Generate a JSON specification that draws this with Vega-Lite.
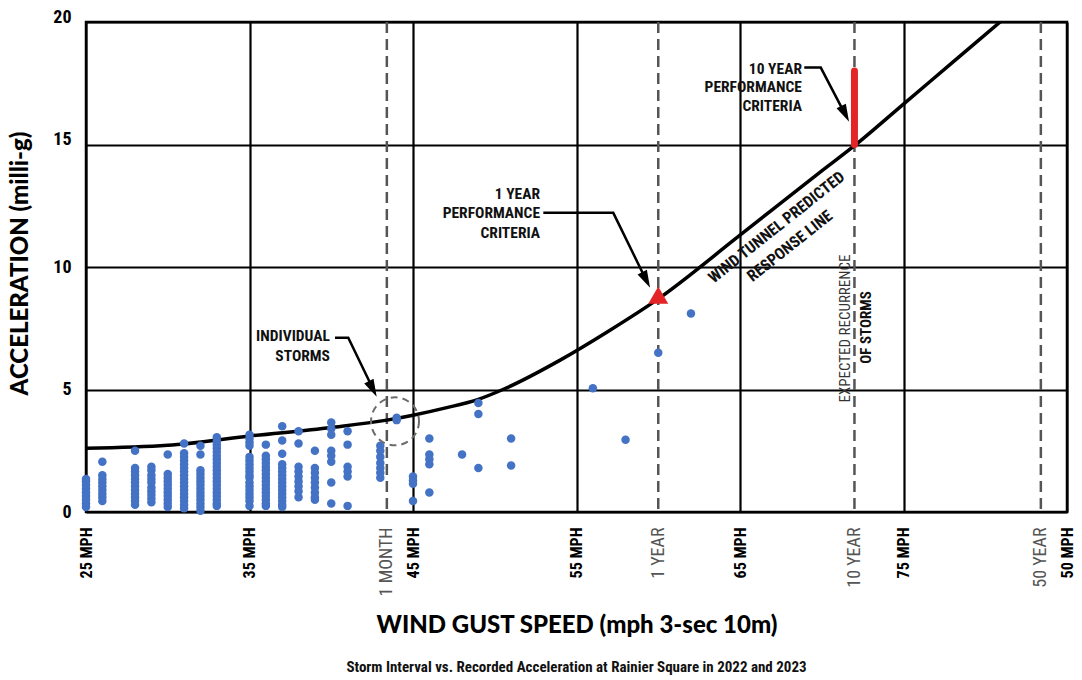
{
  "$schema": "https://vega.github.io/schema/vega-lite/v6.json",
  "width": 981,
  "height": 490,
  "autosize": {"type": "none"},
  "padding": {"left": 86, "top": 22, "right": 15, "bottom": 168},
  "background": "white",
  "title": {
    "text": "Storm Interval vs. Recorded Acceleration at Rainier Square in 2022 and 2023",
    "orient": "bottom",
    "anchor": "middle",
    "offset": 23,
    "font": "'Noto Sans ExtraCondensed', 'Roboto Condensed', 'Noto Sans Condensed', 'Liberation Sans Narrow', 'DejaVu Sans Condensed', sans-serif",
    "fontSize": 15,
    "fontWeight": "bold",
    "color": "#111111"
  },
  "datasets": {
    "storms": [
      {"mph": 25, "acc": 0.2}, {"mph": 25, "acc": 0.35}, {"mph": 25, "acc": 0.5}, {"mph": 25, "acc": 0.65}, {"mph": 25, "acc": 0.8}, {"mph": 25, "acc": 0.95}, {"mph": 25, "acc": 1.1}, {"mph": 25, "acc": 1.25}, {"mph": 25, "acc": 1.35},
      {"mph": 26, "acc": 2.05}, {"mph": 26, "acc": 1.5}, {"mph": 26, "acc": 1.35}, {"mph": 26, "acc": 1.2}, {"mph": 26, "acc": 1.05}, {"mph": 26, "acc": 0.9}, {"mph": 26, "acc": 0.75}, {"mph": 26, "acc": 0.6}, {"mph": 26, "acc": 0.45},
      {"mph": 28, "acc": 2.5}, {"mph": 28, "acc": 1.8}, {"mph": 28, "acc": 1.65}, {"mph": 28, "acc": 1.5}, {"mph": 28, "acc": 1.35}, {"mph": 28, "acc": 1.2}, {"mph": 28, "acc": 1.05}, {"mph": 28, "acc": 0.9}, {"mph": 28, "acc": 0.75}, {"mph": 28, "acc": 0.6}, {"mph": 28, "acc": 0.45}, {"mph": 28, "acc": 0.3},
      {"mph": 29, "acc": 1.85}, {"mph": 29, "acc": 1.7}, {"mph": 29, "acc": 1.5}, {"mph": 29, "acc": 1.35}, {"mph": 29, "acc": 1.2}, {"mph": 29, "acc": 1.0}, {"mph": 29, "acc": 0.85}, {"mph": 29, "acc": 0.7}, {"mph": 29, "acc": 0.55}, {"mph": 29, "acc": 0.4},
      {"mph": 30, "acc": 2.35}, {"mph": 30, "acc": 1.55}, {"mph": 30, "acc": 1.4}, {"mph": 30, "acc": 1.25}, {"mph": 30, "acc": 1.1}, {"mph": 30, "acc": 0.95}, {"mph": 30, "acc": 0.8}, {"mph": 30, "acc": 0.65}, {"mph": 30, "acc": 0.5}, {"mph": 30, "acc": 0.35}, {"mph": 30, "acc": 0.2},
      {"mph": 31, "acc": 2.8}, {"mph": 31, "acc": 2.4}, {"mph": 31, "acc": 2.25}, {"mph": 31, "acc": 2.1}, {"mph": 31, "acc": 1.95}, {"mph": 31, "acc": 1.8}, {"mph": 31, "acc": 1.65}, {"mph": 31, "acc": 1.5}, {"mph": 31, "acc": 1.35}, {"mph": 31, "acc": 1.2}, {"mph": 31, "acc": 1.05}, {"mph": 31, "acc": 0.9}, {"mph": 31, "acc": 0.75}, {"mph": 31, "acc": 0.6}, {"mph": 31, "acc": 0.45}, {"mph": 31, "acc": 0.3}, {"mph": 31, "acc": 0.15},
      {"mph": 32, "acc": 2.7}, {"mph": 32, "acc": 2.35}, {"mph": 32, "acc": 1.7}, {"mph": 32, "acc": 1.55}, {"mph": 32, "acc": 1.4}, {"mph": 32, "acc": 1.25}, {"mph": 32, "acc": 1.1}, {"mph": 32, "acc": 0.95}, {"mph": 32, "acc": 0.8}, {"mph": 32, "acc": 0.65}, {"mph": 32, "acc": 0.5}, {"mph": 32, "acc": 0.35}, {"mph": 32, "acc": 0.2}, {"mph": 32, "acc": 0.05},
      {"mph": 33, "acc": 3.05}, {"mph": 33, "acc": 2.9}, {"mph": 33, "acc": 2.75}, {"mph": 33, "acc": 2.6}, {"mph": 33, "acc": 2.45}, {"mph": 33, "acc": 2.3}, {"mph": 33, "acc": 2.15}, {"mph": 33, "acc": 2.0}, {"mph": 33, "acc": 1.85}, {"mph": 33, "acc": 1.7}, {"mph": 33, "acc": 1.55}, {"mph": 33, "acc": 1.4}, {"mph": 33, "acc": 1.25}, {"mph": 33, "acc": 1.1}, {"mph": 33, "acc": 0.95}, {"mph": 33, "acc": 0.8}, {"mph": 33, "acc": 0.65}, {"mph": 33, "acc": 0.5}, {"mph": 33, "acc": 0.35}, {"mph": 33, "acc": 0.25},
      {"mph": 35, "acc": 3.15}, {"mph": 35, "acc": 3.0}, {"mph": 35, "acc": 2.85}, {"mph": 35, "acc": 2.7}, {"mph": 35, "acc": 2.25}, {"mph": 35, "acc": 2.1}, {"mph": 35, "acc": 1.95}, {"mph": 35, "acc": 1.8}, {"mph": 35, "acc": 1.65}, {"mph": 35, "acc": 1.5}, {"mph": 35, "acc": 1.4}, {"mph": 35, "acc": 1.2}, {"mph": 35, "acc": 1.05}, {"mph": 35, "acc": 0.9}, {"mph": 35, "acc": 0.75}, {"mph": 35, "acc": 0.6}, {"mph": 35, "acc": 0.45}, {"mph": 35, "acc": 0.25},
      {"mph": 36, "acc": 2.75}, {"mph": 36, "acc": 2.3}, {"mph": 36, "acc": 2.15}, {"mph": 36, "acc": 2.0}, {"mph": 36, "acc": 1.85}, {"mph": 36, "acc": 1.7}, {"mph": 36, "acc": 1.55}, {"mph": 36, "acc": 1.4}, {"mph": 36, "acc": 1.25}, {"mph": 36, "acc": 1.1}, {"mph": 36, "acc": 0.95}, {"mph": 36, "acc": 0.8}, {"mph": 36, "acc": 0.65}, {"mph": 36, "acc": 0.5}, {"mph": 36, "acc": 0.35}, {"mph": 36, "acc": 0.25},
      {"mph": 37, "acc": 3.5}, {"mph": 37, "acc": 2.92}, {"mph": 37, "acc": 2.38}, {"mph": 37, "acc": 1.95}, {"mph": 37, "acc": 1.8}, {"mph": 37, "acc": 1.65}, {"mph": 37, "acc": 1.5}, {"mph": 37, "acc": 1.35}, {"mph": 37, "acc": 1.2}, {"mph": 37, "acc": 1.05}, {"mph": 37, "acc": 0.9}, {"mph": 37, "acc": 0.75}, {"mph": 37, "acc": 0.6}, {"mph": 37, "acc": 0.45}, {"mph": 37, "acc": 0.3}, {"mph": 37, "acc": 0.2},
      {"mph": 38, "acc": 3.3}, {"mph": 38, "acc": 2.8}, {"mph": 38, "acc": 1.85}, {"mph": 38, "acc": 1.65}, {"mph": 38, "acc": 1.45}, {"mph": 38, "acc": 1.25}, {"mph": 38, "acc": 1.05}, {"mph": 38, "acc": 0.85}, {"mph": 38, "acc": 0.6},
      {"mph": 39, "acc": 2.5}, {"mph": 39, "acc": 1.8}, {"mph": 39, "acc": 1.6}, {"mph": 39, "acc": 1.4}, {"mph": 39, "acc": 1.2}, {"mph": 39, "acc": 1.0}, {"mph": 39, "acc": 0.8}, {"mph": 39, "acc": 0.6}, {"mph": 39, "acc": 0.5},
      {"mph": 40, "acc": 3.65}, {"mph": 40, "acc": 3.4}, {"mph": 40, "acc": 3.15}, {"mph": 40, "acc": 2.5}, {"mph": 40, "acc": 2.3}, {"mph": 40, "acc": 2.05}, {"mph": 40, "acc": 1.2}, {"mph": 40, "acc": 0.35},
      {"mph": 41, "acc": 3.3}, {"mph": 41, "acc": 2.75}, {"mph": 41, "acc": 1.85}, {"mph": 41, "acc": 1.65}, {"mph": 41, "acc": 1.45}, {"mph": 41, "acc": 0.25},
      {"mph": 43, "acc": 2.7}, {"mph": 43, "acc": 2.5}, {"mph": 43, "acc": 2.25}, {"mph": 43, "acc": 2.0}, {"mph": 43, "acc": 1.8}, {"mph": 43, "acc": 1.6}, {"mph": 43, "acc": 1.4},
      {"mph": 44, "acc": 3.85}, {"mph": 44, "acc": 3.75},
      {"mph": 45, "acc": 1.45}, {"mph": 45, "acc": 1.3}, {"mph": 45, "acc": 1.15}, {"mph": 45, "acc": 0.45},
      {"mph": 46, "acc": 3.0}, {"mph": 46, "acc": 2.35}, {"mph": 46, "acc": 2.15}, {"mph": 46, "acc": 1.95}, {"mph": 46, "acc": 0.8},
      {"mph": 48, "acc": 2.35},
      {"mph": 49, "acc": 4.45}, {"mph": 49, "acc": 4.0}, {"mph": 49, "acc": 1.8},
      {"mph": 51, "acc": 3.0}, {"mph": 51, "acc": 1.9},
      {"mph": 56, "acc": 5.05},
      {"mph": 58, "acc": 2.95},
      {"mph": 60, "acc": 6.5},
      {"mph": 62, "acc": 8.1}
    ],
    "response": [
      {"mph": 25, "acc": 2.6}, {"mph": 30, "acc": 2.72}, {"mph": 35, "acc": 3.1}, {"mph": 40, "acc": 3.45},
      {"mph": 43.4, "acc": 3.75}, {"mph": 45, "acc": 3.95}, {"mph": 47, "acc": 4.25}, {"mph": 49, "acc": 4.6},
      {"mph": 50.5, "acc": 5.0}, {"mph": 54, "acc": 6.2}, {"mph": 57, "acc": 7.4}, {"mph": 60, "acc": 8.7},
      {"mph": 65, "acc": 11.3}, {"mph": 70, "acc": 13.92}, {"mph": 72, "acc": 14.95}, {"mph": 75, "acc": 16.65},
      {"mph": 78, "acc": 18.35}, {"mph": 81, "acc": 20.05}
    ],
    "recurrence": [
      {"interval": "1 MONTH", "mph": 43.4},
      {"interval": "1 YEAR", "mph": 60},
      {"interval": "10 YEAR", "mph": 72},
      {"interval": "50 YEAR", "mph": 83.4}
    ],
    "criteria": [
      {"period": "1 YEAR", "mph": 60, "acc": 8.85},
      {"period": "10 YEAR", "mph": 72, "acc": 15, "acc2": 18}
    ],
    "highlight": [{"mph": 43.9, "acc": 3.7}],
    "notes": [
      {"kind": "label", "text": "INDIVIDUAL", "mph": 39.92, "acc": 7.18},
      {"kind": "label", "text": "STORMS", "mph": 39.92, "acc": 6.36},
      {"kind": "label", "text": "1 YEAR", "mph": 52.77, "acc": 12.96},
      {"kind": "label", "text": "PERFORMANCE", "mph": 52.77, "acc": 12.21},
      {"kind": "label", "text": "CRITERIA", "mph": 52.77, "acc": 11.4},
      {"kind": "label", "text": "10 YEAR", "mph": 68.79, "acc": 18.07},
      {"kind": "label", "text": "PERFORMANCE", "mph": 68.79, "acc": 17.33},
      {"kind": "label", "text": "CRITERIA", "mph": 68.79, "acc": 16.58},
      {"kind": "slope", "text": "WIND TUNNEL PREDICTED", "mph": 67.24, "acc": 11.62},
      {"kind": "slope", "text": "RESPONSE LINE", "mph": 68.06, "acc": 10.85},
      {"kind": "vertical", "text": "EXPECTED RECURRENCE", "mph": 71.45, "acc": 7.49},
      {"kind": "verticalBold", "text": "OF STORMS", "mph": 72.68, "acc": 7.53}
    ],
    "leaders": [
      {"note": "storms", "seq": 1, "mph": 40.23, "acc": 7.11},
      {"note": "storms", "seq": 2, "mph": 41.04, "acc": 7.11},
      {"note": "storms", "seq": 3, "mph": 42.57, "acc": 5.0},
      {"note": "year1", "seq": 1, "mph": 52.97, "acc": 12.21},
      {"note": "year1", "seq": 2, "mph": 57.25, "acc": 12.21},
      {"note": "year1", "seq": 3, "mph": 59.28, "acc": 9.44},
      {"note": "year10", "seq": 1, "mph": 68.93, "acc": 18.14},
      {"note": "year10", "seq": 2, "mph": 69.94, "acc": 18.14},
      {"note": "year10", "seq": 3, "mph": 71.44, "acc": 16.22}
    ],
    "heads": [
      {"note": "storms", "mph": 42.78, "acc": 4.7},
      {"note": "year1", "mph": 59.5, "acc": 9.15},
      {"note": "year10", "mph": 71.67, "acc": 15.93}
    ]
  },
  "encoding": {
    "x": {
      "field": "mph",
      "type": "quantitative",
      "title": "WIND GUST SPEED (mph 3-sec 10m)",
      "scale": {"domain": [25, 85], "nice": false, "zero": false},
      "axis": {
        "values": [25, 35, 43.4, 45, 55, 60, 65, 72, 75, 83.4, 85],
        "labelExpr": "datum.value == 43.4 ? '1 MONTH' : datum.value == 60 ? '1 YEAR' : datum.value == 72 ? '10 YEAR' : datum.value == 83.4 ? '50 YEAR' : datum.value == 85 ? '50 MPH' : datum.label + ' MPH'",
        "labelAngle": -90,
        "labelPadding": 15,
        "labelFont": "'Noto Sans ExtraCondensed', 'Roboto Condensed', 'Noto Sans Condensed', 'Liberation Sans Narrow', 'DejaVu Sans Condensed', sans-serif",
        "labelFontSize": {"condition": {"test": "indexof([43.4, 60, 72, 83.4], datum.value) >= 0", "value": 18}, "value": 16},
        "labelFontWeight": {"condition": {"test": "indexof([43.4, 60, 72, 83.4], datum.value) >= 0", "value": "normal"}, "value": "bold"},
        "labelColor": {"condition": {"test": "indexof([43.4, 60, 72, 83.4], datum.value) >= 0", "value": "#555555"}, "value": "#000000"},
        "labelOverlap": false,
        "labelFlush": false,
        "labelBound": false,
        "ticks": false,
        "domain": false,
        "grid": true,
        "gridColor": "#000000",
        "gridWidth": 2.2,
        "gridOpacity": {"condition": {"test": "indexof([43.4, 60, 72, 83.4], datum.value) >= 0", "value": 0}, "value": 1},
        "titleFont": "Lato, sans-serif",
        "titleFontWeight": 900,
        "titleFontSize": 24,
        "titleColor": "#000000",
        "titleY": 113,
        "titleBaseline": "middle"
      }
    }
  },
  "layer": [
    {
      "data": {"name": "recurrence"},
      "mark": {"type": "rule", "color": "#555555", "strokeWidth": 2.5, "strokeDash": [11, 6]},
      "encoding": {}
    },
    {
      "encoding": {
        "y": {
          "field": "acc",
          "type": "quantitative",
          "title": "ACCELERATION (milli-g)",
          "scale": {"domain": [0, 20], "nice": false},
          "axis": {
            "values": [0, 5, 10, 15, 20],
            "labelFont": "'Noto Sans ExtraCondensed', 'Roboto Condensed', 'Noto Sans Condensed', 'Liberation Sans Narrow', 'DejaVu Sans Condensed', sans-serif",
            "labelFontSize": 18,
            "labelFontWeight": "bold",
            "labelColor": "#000000",
            "labelPadding": 15,
            "labelFlush": false,
            "labelBaseline": {"condition": {"test": "datum.value > 10", "value": "alphabetic"}, "value": "middle"},
            "ticks": false,
            "domain": false,
            "grid": true,
            "gridColor": "#000000",
            "gridWidth": 2.2,
            "titleFont": "Lato, sans-serif",
            "titleFontWeight": 900,
            "titleFontSize": 24,
            "titleColor": "#000000",
            "titleX": -66,
            "titleY": 241,
            "titleAngle": 270,
            "titleAlign": "center",
            "titleBaseline": "middle"
          }
        }
      },
      "layer": [
        {
          "data": {"name": "response"},
          "mark": {"type": "line", "color": "#000000", "strokeWidth": 3.5, "interpolate": "monotone", "clip": true},
          "encoding": {}
        },
        {
          "data": {"name": "storms"},
          "mark": {"type": "point", "shape": "circle", "filled": true, "color": "#4472c4", "opacity": 1, "size": 72},
          "encoding": {}
        },
        {
          "data": {"name": "highlight"},
          "mark": {"type": "point", "shape": "circle", "filled": false, "color": "#6b6b6b", "opacity": 1, "strokeWidth": 2, "strokeDash": [7, 5], "size": 2304},
          "encoding": {}
        },
        {
          "data": {"name": "leaders"},
          "mark": {"type": "line", "color": "#000000", "strokeWidth": 2.5},
          "encoding": {"detail": {"field": "note"}, "order": {"field": "seq"}}
        },
        {
          "data": {"name": "heads"},
          "mark": {"type": "point", "shape": "M0,0L0.65,2.2L-0.65,2.2Z", "filled": true, "color": "#000000", "opacity": 1, "size": 256, "angle": 153.5},
          "encoding": {}
        },
        {
          "data": {"name": "criteria"},
          "transform": [{"filter": "datum.period == '10 YEAR'"}],
          "mark": {"type": "rule", "color": "#e42528", "strokeWidth": 7, "strokeCap": "round"},
          "encoding": {"y2": {"field": "acc2"}}
        },
        {
          "data": {"name": "criteria"},
          "transform": [{"filter": "datum.period == '1 YEAR'"}],
          "mark": {"type": "point", "shape": "triangle-up", "filled": true, "color": "#e42528", "opacity": 1, "size": 400},
          "encoding": {}
        },
        {
          "data": {"name": "notes"},
          "transform": [{"filter": "datum.kind == 'label'"}],
          "mark": {"type": "text", "align": "right", "baseline": "middle", "font": "'Noto Sans ExtraCondensed', 'Roboto Condensed', 'Noto Sans Condensed', 'Liberation Sans Narrow', 'DejaVu Sans Condensed', sans-serif", "fontSize": 15.5, "fontWeight": "bold", "color": "#111111"},
          "encoding": {"text": {"field": "text"}}
        },
        {
          "data": {"name": "notes"},
          "transform": [{"filter": "datum.kind == 'slope'"}],
          "mark": {"type": "text", "align": "center", "baseline": "middle", "angle": -38.5, "font": "'Noto Sans ExtraCondensed', 'Roboto Condensed', 'Noto Sans Condensed', 'Liberation Sans Narrow', 'DejaVu Sans Condensed', sans-serif", "fontSize": 16, "fontWeight": "bold", "color": "#111111"},
          "encoding": {"text": {"field": "text"}}
        },
        {
          "data": {"name": "notes"},
          "transform": [{"filter": "datum.kind == 'vertical'"}],
          "mark": {"type": "text", "align": "center", "baseline": "middle", "angle": -90, "font": "'Noto Sans ExtraCondensed', 'Roboto Condensed', 'Noto Sans Condensed', 'Liberation Sans Narrow', 'DejaVu Sans Condensed', sans-serif", "fontSize": 15, "fontWeight": "normal", "color": "#333333"},
          "encoding": {"text": {"field": "text"}}
        },
        {
          "data": {"name": "notes"},
          "transform": [{"filter": "datum.kind == 'verticalBold'"}],
          "mark": {"type": "text", "align": "center", "baseline": "middle", "angle": -90, "font": "'Noto Sans ExtraCondensed', 'Roboto Condensed', 'Noto Sans Condensed', 'Liberation Sans Narrow', 'DejaVu Sans Condensed', sans-serif", "fontSize": 15, "fontWeight": "bold", "color": "#111111"},
          "encoding": {"text": {"field": "text"}}
        }
      ]
    }
  ],
  "config": {
    "view": {"stroke": "#000000", "strokeWidth": 2.5}
  }
}
